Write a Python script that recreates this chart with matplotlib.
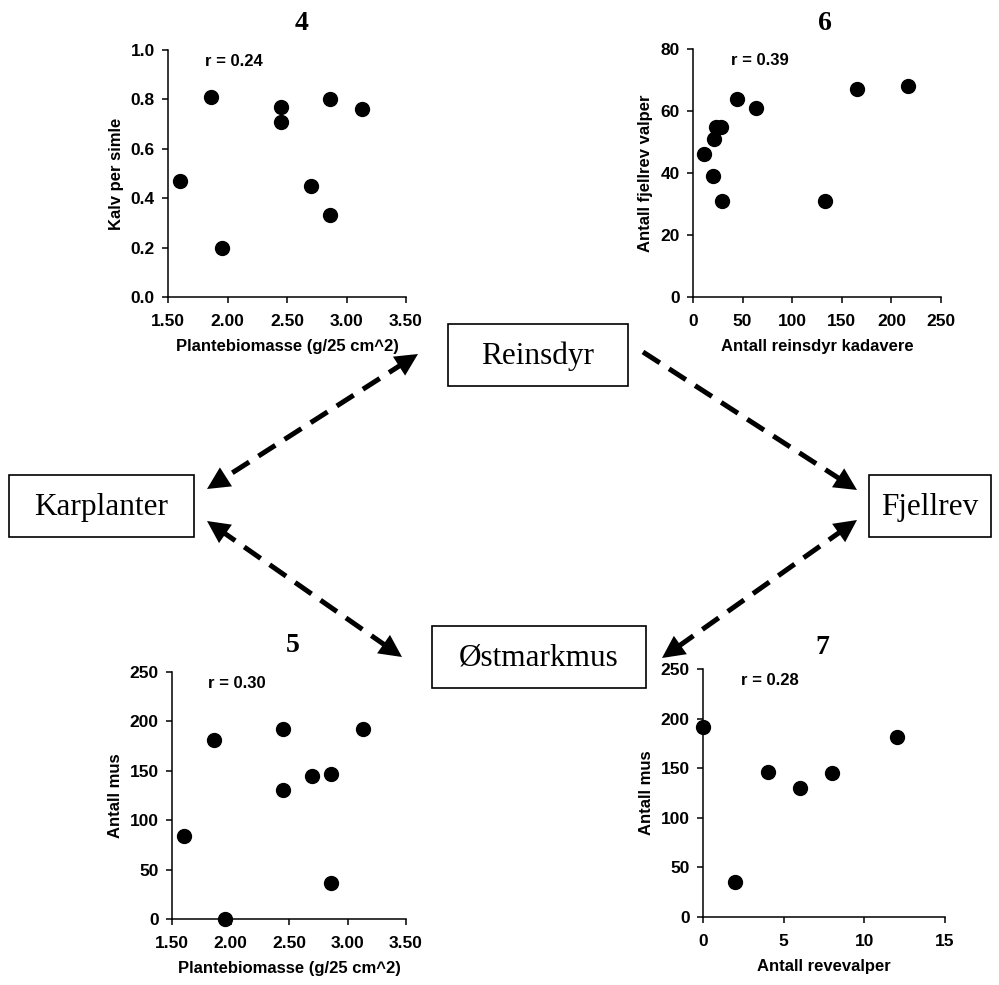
import numpy as np
import matplotlib.pyplot as plt
from matplotlib.patches import Rectangle

# panel 4 / 5 : plant biomass vs calves and mice
biomass = [1.60, 1.86, 1.95, 2.45, 2.45, 2.70, 2.86, 2.86, 3.13]
kalv = [0.47, 0.81, 0.20, 0.77, 0.71, 0.45, 0.80, 0.33, 0.76]
mus_biomass = [84, 181, 0, 192, 131, 145, 147, 36, 192]

# panel 6 : reindeer carcasses vs arctic fox cubs
kadaver = [11, 21, 23, 28, 20, 29, 44, 64, 133, 165, 217]
valper = [46, 51, 55, 55, 39, 31, 64, 61, 31, 67, 68]

# panel 7 : fox cubs vs mice
revevalper = [0, 2, 4, 6, 8, 12]
mus_rev = [192, 35, 146, 130, 145, 181]

panels = [
    # title, r, x, y, xlabel, ylabel, xlim, xticks, xfmt, ylim, yticks, yfmt
    ("4", "r = 0.24", biomass, kalv, "Plantebiomasse (g/25 cm^2)", "Kalv per simle",
     (1.5, 3.5), np.arange(1.5, 3.51, 0.5), "%.2f", (0, 1.0), np.arange(0, 1.01, 0.2), "%.1f"),
    ("6", "r = 0.39", kadaver, valper, "Antall reinsdyr kadavere", "Antall fjellrev valper",
     (0, 250), np.arange(0, 251, 50), "%d", (0, 80), np.arange(0, 81, 20), "%d"),
    ("5", "r = 0.30", biomass, mus_biomass, "Plantebiomasse (g/25 cm^2)", "Antall mus",
     (1.5, 3.5), np.arange(1.5, 3.51, 0.5), "%.2f", (0, 250), np.arange(0, 251, 50), "%d"),
    ("7", "r = 0.28", revevalper, mus_rev, "Antall revevalper", "Antall mus",
     (0, 15), np.arange(0, 16, 5), "%d", (0, 250), np.arange(0, 251, 50), "%d"),
]

W, H = 999, 985
# axes rectangles in pixels: left, top, right, bottom
boxes_px = [(168, 50, 406, 297), (693, 49, 941, 297), (172, 672, 406, 919), (703, 669, 945, 917)]
title_px = [(302, 23), (825, 23), (293, 645), (822, 647)]

fig = plt.figure(figsize=(W / 100, H / 100), dpi=100)

# overlay for the diagram (pixel coordinates)
bg = fig.add_axes([0, 0, 1, 1])
bg.set_xlim(0, W)
bg.set_ylim(H, 0)
bg.axis("off")

serif = "Liberation Serif"
sans = "Liberation Sans"

nodes = [
    ("Reinsdyr", 448, 324, 628, 386),
    ("Karplanter", 9, 475, 194, 537),
    ("Fjellrev", 869, 475, 991, 537),
    ("Østmarkmus", 432, 626, 646, 688),
]
for name, x0, y0, x1, y1 in nodes:
    bg.add_patch(Rectangle((x0, y0), x1 - x0, y1 - y0, fill=False, lw=1.2, ec="black"))
    bg.text((x0 + x1) / 2, (y0 + y1) / 2 + 1, name, family=serif, fontsize=22.5,
            ha="center", va="center")

# arrows: start, end, head at start, head at end
arrows = [
    ((418, 354), (207, 489), True, True),
    ((207, 521), (402, 657), True, True),
    ((643, 352), (857, 490), False, True),
    ((857, 520), (662, 658), True, True),
]
head_len = 16
for p0, p1, h0, h1 in arrows:
    p0 = np.array(p0, float)
    p1 = np.array(p1, float)
    d = (p1 - p0) / np.linalg.norm(p1 - p0)
    a = p0 + d * head_len * 0.9 if h0 else p0
    b = p1 - d * head_len * 0.9 if h1 else p1
    bg.plot([a[0], b[0]], [a[1], b[1]], color="black", lw=3.6,
            dashes=(4, 2.2), solid_capstyle="butt", dash_capstyle="butt")
    for tip, flag, sgn in ((p0, h0, -1), (p1, h1, 1)):
        if not flag:
            continue
        base = tip - sgn * d * head_len
        bg.annotate("", xy=tip, xytext=base,
                    arrowprops=dict(arrowstyle="-|>,head_length=0.9,head_width=0.45",
                                    mutation_scale=18, lw=0, color="black",
                                    shrinkA=0, shrinkB=0))

for (title, rtxt, xs, ys, xl, yl, xlim, xt, xf, ylim, yt, yf), (l, t, r, b), (tx, ty) in zip(panels, boxes_px, title_px):
    ax = fig.add_axes([l / W, 1 - b / H, (r - l) / W, (b - t) / H])
    ax.patch.set_alpha(0)
    ax.plot(xs, ys, "o", color="black", markersize=10, clip_on=False, zorder=5)
    ax.set_xlim(xlim)
    ax.set_ylim(ylim)
    ax.set_xticks(xt)
    ax.set_yticks(yt)
    ax.set_xticklabels([xf % v for v in xt])
    ax.set_yticklabels([yf % v for v in yt])
    for s in ("top", "right"):
        ax.spines[s].set_visible(False)
    for s in ("left", "bottom"):
        ax.spines[s].set_linewidth(1.1)
    ax.tick_params(direction="out", length=4.5, width=1.1, labelsize=12.5)
    ax.tick_params(axis="x", pad=8)
    ax.tick_params(axis="y", pad=5)
    for lab in ax.get_xticklabels() + ax.get_yticklabels():
        lab.set_fontfamily(sans)
        lab.set_fontweight("bold")
    ax.set_xlabel(xl, family=sans, fontweight="bold", fontsize=12, labelpad=7)
    ax.set_ylabel(yl, family=sans, fontweight="bold", fontsize=12, labelpad=5)
    ax.text(0.155, 0.955, rtxt, transform=ax.transAxes, family=sans, fontweight="bold",
            fontsize=12, ha="left", va="center")
    fig.text(tx / W, 1 - ty / H, title, family=serif, fontweight="bold", fontsize=20,
             ha="center", va="center")

fig.savefig("out.png", dpi=100)
